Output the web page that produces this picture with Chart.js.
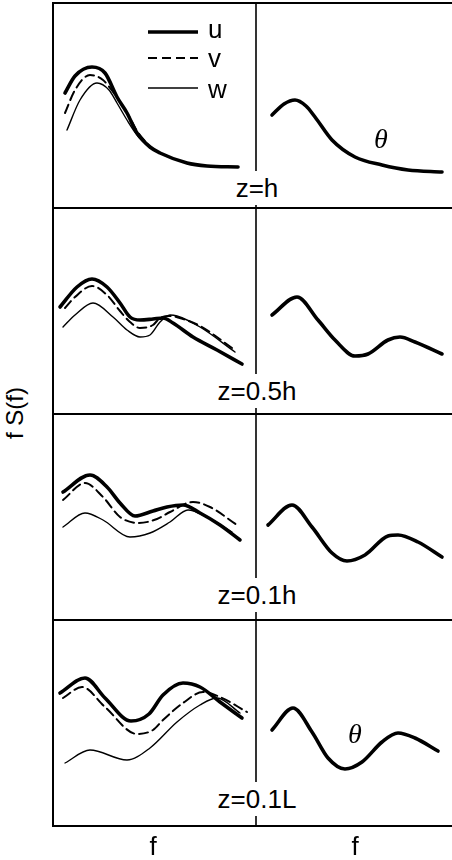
<!DOCTYPE html>
<html><head><meta charset="utf-8">
<script src="https://cdn.jsdelivr.net/npm/chart.js@4.4.0/dist/chart.umd.min.js"></script>
<style>
html,body{margin:0;padding:0;background:#fff;}
#wrap{position:relative;width:452px;height:860px;overflow:hidden;font-family:"Liberation Sans",Arial,Helvetica,sans-serif;color:#000;}
#wrap canvas{position:absolute;}
.zl{position:absolute;font-size:26px;line-height:34px;background:#fff;padding:0 2px;white-space:nowrap;transform:translateX(-50%);z-index:5;}
.fl{position:absolute;font-size:26px;line-height:30px;white-space:nowrap;transform:translateX(-50%);}
.yl{position:absolute;font-size:24px;line-height:28px;white-space:nowrap;transform:translate(-50%,-50%) rotate(-90deg);}
</style>
</head><body>
<div id="wrap"></div>
<script>
// ---- data (arbitrary units: f along panel, fS(f) height in panel) ----
const panelLabels = ["z=h", "z=0.5h", "z=0.1h", "z=0.1L"];
const seriesNames = ["u", "v", "w"];

// z = h
const h1_u_f = [12,22,39,52,64,74,84,97,107,134,154,185];
const h1_u_S = [115,132,141,135,111,95,75,61,55,45,42,41];
const h1_v_f = [12,22,37,50,60,67,77,84,97];
const h1_v_S = [95,118,133,128,116,106,90,77,61];
const h1_w_f = [14,27,44,56,64,74,84,97];
const h1_w_S = [78,108,125,118,105,88,73,60];
const h1_t_f = [16,28,39,50,59,76,99,126,152,186];
const h1_t_S = [93,104,108,102,91,68,51,43,38,36];

// z = 0.5h
const h2_u_f = [7,24,39,54,67,77,87,100,110,120,140,164,189];
const h2_u_S = [107,127,135,127,111,97,94,95,96,91,77,64,50];
const h2_v_f = [12,22,39,54,67,77,87,100,107,117,130,147,182];
const h2_v_S = [106,117,128,119,103,92,86,89,96,98,95,88,64];
const h2_w_f = [10,22,40,60,74,87,97,107,117,124,147,182];
const h2_w_S = [87,99,111,97,84,77,79,92,99,98,87,62];
const h2_t_f = [16,41,62,79,99,112,132,144,159,186];
const h2_t_S = [99,117,94,74,58,60,74,77,72,60];

// z = 0.1h
const h3_u_f = [10,37,54,67,82,100,114,130,147,167,187];
const h3_u_S = [128,145,133,117,104,109,113,115,107,95,80];
const h3_v_f = [10,32,50,67,86,104,117,140,157,184];
const h3_v_S = [120,137,123,103,97,101,108,118,113,95];
const h3_w_f = [10,32,50,77,97,117,135,154,179];
const h3_w_S = [93,107,100,83,87,98,110,103,88];
const h3_t_f = [12,36,56,76,91,109,132,142,162,186];
const h3_t_S = [95,115,93,67,59,65,84,85,78,63];

// z = 0.1L
const h4_u_f = [7,32,52,78,96,110,130,147,167,189];
const h4_u_S = [133,148,128,105,112,131,143,139,124,108];
const h4_v_f = [10,29,52,84,100,110,130,150,167,194];
const h4_v_S = [128,139,119,92,96,106,123,134,129,114];
const h4_w_f = [12,37,74,97,124,147,164,187];
const h4_w_S = [63,76,66,78,104,121,128,113];
const h4_t_f = [16,37,56,72,89,106,126,142,159,182];
const h4_t_S = [96,118,94,68,57,64,84,93,88,75];

// ---- layout ----
const PAD = 3;
const colL = [53, 256];
const colW = [203, 196];
const rowT = [3, 208, 414, 620];
const rowH = [205, 206, 206, 206];
const INK = '#000';

const wrap = document.getElementById('wrap');
const pts = (f, s) => f.map((v, i) => ({x: v, y: s[i]}));
const styleU = {borderColor: INK, borderWidth: 3.6};
const styleV = {borderColor: INK, borderWidth: 2, borderDash: [9, 5]};
const styleW = {borderColor: INK, borderWidth: 1.4};
const styleT = {borderColor: INK, borderWidth: 3.6};

const framePlugin = {
  id: 'frame',
  afterDraw(chart, args, o) {
    const {ctx, chartArea: a} = chart;
    ctx.save();
    ctx.strokeStyle = INK;
    ctx.lineCap = 'butt';
    ctx.lineWidth = o.topW || 1.8;
    ctx.beginPath(); ctx.moveTo(a.left - 1, a.top); ctx.lineTo(a.right + 2, a.top); ctx.stroke();
    ctx.lineWidth = o.leftW || 1.6;
    ctx.beginPath(); ctx.moveTo(a.left, a.top - 1); ctx.lineTo(a.left, a.bottom + 1); ctx.stroke();
    if (o.bottom) {
      ctx.lineWidth = 2;
      ctx.beginPath(); ctx.moveTo(a.left - 1, a.bottom); ctx.lineTo(a.right + 2, a.bottom); ctx.stroke();
    }
    ctx.restore();
  }
};

const legendPlugin = {
  id: 'lineLegend',
  afterDraw(chart, args, o) {
    if (!o.show) return;
    const {ctx, chartArea: a} = chart;
    const styles = [styleU, styleV, styleW];
    const ys = [29, 55, 85];
    const bases = [35, 64, 95];
    ctx.save();
    ctx.fillStyle = INK;
    ctx.font = '26px "Liberation Sans", Arial, sans-serif';
    ctx.textBaseline = 'alphabetic';
    seriesNames.forEach((n, i) => {
      const s = styles[i];
      ctx.strokeStyle = INK;
      ctx.lineWidth = s.borderWidth;
      ctx.setLineDash(s.borderDash || []);
      ctx.beginPath();
      ctx.moveTo(a.left + 95, a.top + ys[i]);
      ctx.lineTo(a.left + 145, a.top + ys[i]);
      ctx.stroke();
      ctx.setLineDash([]);
      ctx.fillText(n, a.left + 155, a.top + bases[i]);
    });
    ctx.restore();
  }
};

const thetaPlugin = {
  id: 'theta',
  afterDraw(chart, args, o) {
    if (!o.show) return;
    const {ctx, chartArea: a} = chart;
    ctx.save();
    ctx.fillStyle = INK;
    ctx.font = 'italic 28px "Liberation Serif", "DejaVu Serif", serif';
    ctx.textAlign = 'center';
    ctx.textBaseline = 'alphabetic';
    ctx.fillText('\u03B8', a.left + o.dx, a.top + o.dy);
    ctx.restore();
  }
};

function makePanel(row, col, datasets, extra) {
  const c = document.createElement('canvas');
  const w = colW[col], h = rowH[row];
  c.width = w + 2 * PAD; c.height = h + 2 * PAD;
  c.style.left = (colL[col] - PAD) + 'px';
  c.style.top = (rowT[row] - PAD) + 'px';
  c.style.width = c.width + 'px'; c.style.height = c.height + 'px';
  wrap.appendChild(c);
  new Chart(c, {
    type: 'line',
    data: {datasets},
    options: {
      responsive: false, animation: false, events: [], devicePixelRatio: 1,
      layout: {padding: PAD},
      elements: {point: {radius: 0}, line: {cubicInterpolationMode: 'monotone', borderCapStyle: 'round', borderJoinStyle: 'round', fill: false}},
      scales: {
        x: {type: 'linear', min: 0, max: w, display: false},
        y: {type: 'linear', min: 0, max: h, display: false}
      },
      plugins: Object.assign({
        legend: {display: false}, tooltip: {enabled: false},
        frame: {bottom: row === 3, leftW: col === 0 ? 2 : 1.6, topW: row === 0 ? 2 : 1.8},
        lineLegend: {show: false},
        theta: {show: false}
      }, extra || {})
    },
    plugins: [framePlugin, legendPlugin, thetaPlugin]
  });
}

const rowsUVW = [
  [h1_u_f, h1_u_S, h1_v_f, h1_v_S, h1_w_f, h1_w_S, h1_t_f, h1_t_S],
  [h2_u_f, h2_u_S, h2_v_f, h2_v_S, h2_w_f, h2_w_S, h2_t_f, h2_t_S],
  [h3_u_f, h3_u_S, h3_v_f, h3_v_S, h3_w_f, h3_w_S, h3_t_f, h3_t_S],
  [h4_u_f, h4_u_S, h4_v_f, h4_v_S, h4_w_f, h4_w_S, h4_t_f, h4_t_S]
];

rowsUVW.forEach((r, i) => {
  makePanel(i, 0, [
    Object.assign({label: 'w', data: pts(r[4], r[5])}, styleW),
    Object.assign({label: 'v', data: pts(r[2], r[3])}, styleV),
    Object.assign({label: 'u', data: pts(r[0], r[1])}, styleU)
  ], i === 0 ? {lineLegend: {show: true}} : null);
  let th = null;
  if (i === 0) th = {theta: {show: true, dx: 125, dy: 145}};
  if (i === 3) th = {theta: {show: true, dx: 99, dy: 123}};
  makePanel(i, 1, [Object.assign({label: '\u03B8', data: pts(r[6], r[7])}, styleT)], th);
});

// panel height labels
const zBase = [197, 400, 604, 808];
panelLabels.forEach((t, i) => {
  const d = document.createElement('div');
  d.className = 'zl'; d.textContent = t;
  d.style.left = '257px'; d.style.top = (zBase[i] - 26) + 'px';
  wrap.appendChild(d);
});
// x-axis labels
[153, 355].forEach(x => {
  const d = document.createElement('div');
  d.className = 'fl'; d.textContent = 'f';
  d.style.left = x + 'px'; d.style.top = '831px';
  wrap.appendChild(d);
});
// y-axis label
const yl = document.createElement('div');
yl.className = 'yl'; yl.textContent = 'f S(f)';
yl.style.left = '15px'; yl.style.top = '413px';
wrap.appendChild(yl);
</script>
</body></html>
